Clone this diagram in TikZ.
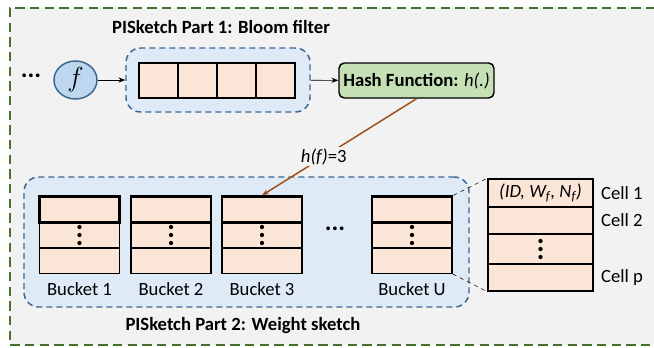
\documentclass[tikz,border=0pt]{standalone}
\usepackage{fontspec}
\setmainfont{Carlito}
\usepackage{tikz}
\usetikzlibrary{positioning,arrows.meta,shapes.geometric}
\definecolor{bggray}{HTML}{F2F2F2}
\definecolor{framegreen}{HTML}{45702A}
\definecolor{partblue}{HTML}{3A6690}
\definecolor{partfill}{HTML}{DEEBF7}
\definecolor{cellfill}{HTML}{FBE5D6}
\definecolor{hashfill}{HTML}{C5E0B4}
\definecolor{ffill}{HTML}{BDD7EE}
\definecolor{hashbrown}{HTML}{9C4F1A}

\begin{document}
\begin{tikzpicture}[x=0.75pt,y=-0.75pt,>={Stealth[length=1.8mm]},
  font=\fontsize{14}{16}\selectfont,
  partbox/.style={draw=partblue,fill=partfill,line width=1.1pt,dash pattern=on 4.5pt off 3pt,rounded corners=11pt,inner sep=0pt},
  cell/.style={draw,fill=cellfill,line width=1.1pt,minimum width=60pt,minimum height=19.1pt,inner sep=0pt},
  bcell/.style={draw,fill=cellfill,line width=1.5pt,minimum width=29.25pt,minimum height=26.25pt,inner sep=0pt},
  ecell/.style={draw,fill=cellfill,line width=1.1pt,minimum width=78.75pt,inner sep=0pt},
  title/.style={font=\fontsize{14}{16}\selectfont\bfseries},
  bigdots/.style={font=\fontsize{19}{19}\selectfont\bfseries}]
\useasboundingbox (0,0) rectangle (654,347);
% outer frame
\fill[bggray] (10,8) rectangle (670,345);
\draw[framegreen,line width=1.9pt,dash pattern=on 7pt off 4pt] (670,8) -- (10,8) -- (10,345) -- (670,345);

% part 1: bloom filter
\node[title] (t1) at (221,27) {PISketch Part 1: Bloom filter};
\node[bigdots] (dots1) at (31,76) {...};
\node[ellipse,draw=partblue,fill=ffill,line width=1.1pt,minimum width=32.25pt,minimum height=28.5pt,inner sep=0pt] (f) at (75.5,80) {\fontsize{22}{22}\selectfont$f$};
\node[partbox,minimum width=138pt,minimum height=48pt] (bf) at (218,80) {};
\foreach \i in {1,...,4}
  \node[bcell] (b\i) at ({139+39*\i-19.5},80.5) {};
\node[draw,fill=hashfill,line width=1.1pt,rounded corners=4pt,minimum width=116.25pt,minimum height=26.25pt,inner sep=1pt] (hash) at (416.5,80.5) {\textbf{Hash Function:} \textit{h(.)}};
\draw[->] (f) -- (bf);
\draw[->] (bf) -- (hash);

% part 2: weight sketch
\node[partbox,minimum width=333.75pt,minimum height=97.5pt] (ws) at (246.5,242) {};
\foreach \x/\n in {79.5/1,171/2,262/3,412/U} {
  \node[cell] (m\n) at (\x,235) {};
  \node[cell] (l\n) at (\x,260.5) {};
  \node[cell,line width=2.2pt] (t\n) at (\x,209.5) {};
  \foreach \d in {-8,0,8}
    \fill ([yshift=\d*0.75pt]m\n.center) circle (1.6pt);
  \node (lab\n) at (\x,289) {Bucket \n};
}
\node[bigdots] (dots2) at (335,229) {...};
\node[title] (t2) at (243,326) {PISketch Part 2: Weight sketch};

% expanded bucket
\node[ecell,minimum height=21pt] (c1) at (540.5,193) {\textit{(ID, W\textsubscript{f}, N\textsubscript{f})}};
\node[ecell,minimum height=20.25pt] (c2) at (540.5,220.5) {};
\node[ecell,minimum height=20.25pt] (cp) at (540.5,277.5) {};
\node[ecell,minimum height=22.5pt,line width=2.2pt] (cd) at (540.5,249) {};
\foreach \d in {-8,0,8}
  \fill ([yshift=\d*0.75pt]cd.center) circle (1.6pt);
\node[right=2pt of c1] (cl1) {Cell 1};
\node[right=2pt of c2] (cl2) {Cell 2};
\node[right=2pt of cp] (clp) {Cell p};
\draw[dashed,thin] (tU.north east) -- (c1.north west);
\draw[dashed,thin] (lU.south east) -- (cp.south west);

% hash result
\draw[->,hashbrown,line width=1.1pt] (hash.south) -- node[pos=0.6,fill=bggray,inner sep=1pt,text=black] (hf) {\textit{h(f)}=3} (t3.north);
\end{tikzpicture}
\end{document}
